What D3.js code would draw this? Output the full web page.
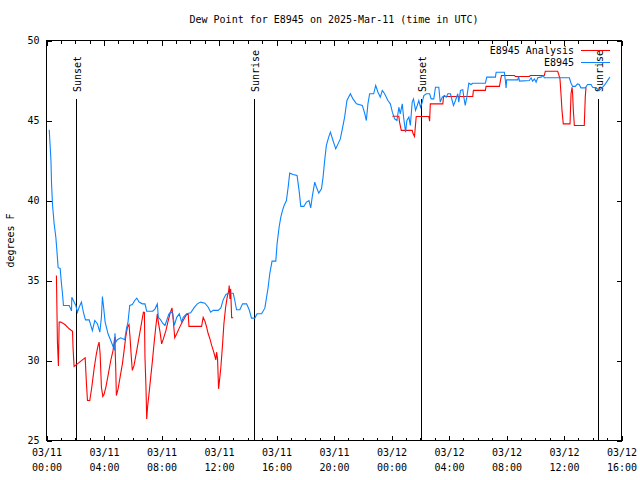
<!DOCTYPE html>
<html>
<head>
<meta charset="utf-8">
<script src="https://cdn.jsdelivr.net/npm/d3@7"></script>
<style>
  html, body { margin: 0; padding: 0; background: #fff; }
  svg { display: block; }
  text { font-family: "DejaVu Sans Mono", "Liberation Mono", monospace; font-size: 10px; fill: #000; }
</style>
</head>
<body>
<svg id="chart" width="640" height="480"></svg>
<script>
// ---------------- data ----------------
const chartTitle = "Dew Point for E8945 on 2025-Mar-11 (time in UTC)";
const yLabel = "degrees F";
const startTime = "2025-03-11T00:00:00Z";
const endTime = "2025-03-12T16:00:00Z";
const yTicks = [25, 30, 35, 40, 45, 50];
const seriesNames = ["E8945 Analysis", "E8945"];

// observed station series (hours after 03/11 00:00 UTC, deg F)
const blueHours = [0.19,0.31,0.35,0.42,0.53,0.65,0.72,0.81,0.95,1.04,1.11,1.18,1.58,1.74,1.76,1.92,2.04,2.15,2.27,2.43,2.57,2.71,2.97,3.19,3.36,3.54,3.71,3.82,3.89,3.96,4.08,4.28,4.47,4.65,4.75,4.76,4.82,4.93,5.17,5.44,5.56,5.67,5.79,5.97,6.14,6.28,6.44,6.67,6.85,6.97,7.39,7.55,7.71,7.78,7.94,8.08,8.24,8.36,8.52,8.64,8.78,8.89,9.06,9.24,9.40,9.51,9.75,10.03,10.26,10.49,10.72,11.02,11.25,11.42,11.60,11.94,12.13,12.29,12.48,12.64,12.99,13.10,13.22,13.45,13.64,13.92,14.10,14.26,14.49,14.65,14.96,15.19,15.31,15.42,15.53,15.69,15.95,16.04,16.18,16.30,16.42,16.53,16.69,16.81,16.92,17.15,17.43,17.57,17.69,17.90,18.08,18.26,18.38,18.50,18.66,18.78,18.94,19.13,19.24,19.35,19.47,19.63,19.75,19.93,20.12,20.28,20.44,20.58,20.74,20.90,21.14,21.32,21.56,21.97,22.13,22.25,22.36,22.48,22.76,22.90,23.06,23.22,23.36,23.52,23.75,23.92,24.06,24.22,24.38,24.51,24.61,24.75,24.84,24.98,25.07,25.21,25.31,25.44,25.53,25.67,25.79,25.90,26.02,26.14,26.25,26.42,26.65,26.76,26.94,27.06,27.29,27.39,27.53,27.69,27.81,27.92,28.10,28.22,28.31,28.45,28.61,28.68,28.80,28.96,29.03,29.13,29.24,29.38,29.54,29.65,30.53,30.63,31.23,31.28,31.85,31.92,31.97,32.01,32.78,32.85,32.90,33.59,33.71,33.82,33.94,34.06,34.17,34.40,34.56,34.63,36.37,36.49,36.60,36.78,36.94,37.06,37.18,37.48,37.64,37.88,37.99,38.22,38.45,38.64,38.80,38.96,39.19];
const blueDew = [44.42,42.5,41.06,39.7,38.56,37.7,36.9,35.8,35.75,34.8,34.2,33.44,33.44,33.1,33.96,33.65,33.44,33.02,33.33,33.65,33.0,32.54,32.54,31.87,32.5,32.3,31.77,32.7,34.0,33.44,32.4,31.67,31.25,30.83,30.67,31.7,31.15,31.3,31.42,31.3,31.98,32.4,33.44,33.5,33.75,33.9,33.65,33.54,33.54,33.08,33.08,33.23,33.54,32.7,32.54,32.33,32.19,32.5,32.92,33.02,32.96,32.19,32.7,32.92,32.4,32.7,32.92,32.98,33.29,33.54,33.65,33.58,33.33,33.02,33.13,33.13,33.29,33.79,34.13,34.2,34.2,33.75,33.17,33.17,33.54,33.54,33.17,32.65,32.65,32.92,32.92,33.27,33.96,34.58,35.42,36.21,36.21,37.29,38.33,38.96,39.38,39.69,40.0,40.83,41.71,41.63,41.56,40.63,39.63,39.63,39.9,40.0,39.54,40.31,41.15,40.83,40.46,40.73,41.46,42.5,43.44,43.96,44.27,43.75,43.23,43.54,43.85,44.48,45.21,46.25,46.67,46.35,46.04,45.94,45.46,45.0,46.04,46.67,46.67,47.19,46.77,46.46,46.88,46.67,46.25,46.04,45.52,45.1,45.0,45.83,45.42,46.04,45.21,44.27,45.0,45.21,44.69,46.15,46.35,45.63,45.94,46.25,45.83,46.15,46.56,46.67,46.67,46.35,46.35,47.08,47.08,46.15,46.46,46.56,46.46,46.67,46.67,46.25,45.94,46.25,46.67,46.15,46.88,46.92,46.46,45.94,46.46,47.33,47.25,47.33,47.33,47.71,47.71,48.02,48.02,47.5,47.04,47.54,47.54,47.75,47.46,47.5,47.67,47.46,47.6,47.4,47.67,47.71,47.81,47.67,47.67,47.33,47.13,47.13,47.29,47.25,47.04,47.04,47.25,47.25,47.08,47.04,46.88,47.04,47.19,47.4,47.71];

// analysis series (null = gap)
const redHours = [0.69,0.76,0.83,0.88,1.00,1.28,1.58,1.81,1.85,1.92,2.15,2.50,2.69,2.78,2.85,3.01,3.15,3.31,3.47,3.59,3.66,3.73,3.82,3.92,4.01,4.13,4.28,4.47,4.63,4.75,4.82,4.86,4.98,5.12,5.28,5.40,5.51,5.63,5.74,5.81,5.90,5.97,6.09,6.28,6.44,6.60,6.74,6.81,6.85,6.92,6.97,7.04,7.13,7.25,7.36,7.48,7.60,7.71,7.78,7.90,8.01,8.13,8.31,8.47,8.59,8.73,8.82,8.92,9.06,9.24,9.40,9.63,9.75,9.86,9.91,10.79,10.90,11.02,11.14,11.25,11.37,11.49,11.60,11.72,11.78,11.83,11.90,11.97,12.06,12.13,12.25,12.34,12.46,12.57,12.67,12.71,12.76,12.81,12.88,12.99,18.5,24.06,24.51,24.56,24.68,25.44,25.49,25.60,25.72,26.60,26.65,26.70,27.57,27.62,29.65,29.70,30.53,30.58,31.51,31.58,31.65,32.55,32.62,33.59,33.66,34.63,34.70,35.56,35.63,35.72,35.79,35.86,35.95,36.42,36.49,36.56,36.60,36.65,36.72,37.41,37.48,37.53];
const redDew = [35.31,31.15,29.65,32.4,32.4,32.25,31.98,31.83,30.73,29.63,29.79,30.04,30.17,28.54,27.5,27.5,28.33,29.48,30.42,30.94,31.15,30.42,28.33,27.75,27.9,28.33,29.06,30.0,30.63,31.46,29.38,27.81,28.23,28.96,29.79,30.63,31.46,32.08,32.25,31.46,30.21,29.38,29.69,30.63,31.46,32.29,33.02,33.0,30.2,28.33,26.35,27.19,27.9,28.96,29.9,31.04,32.08,32.92,32.4,31.77,31.04,31.35,31.88,32.5,32.92,33.29,32.5,31.42,31.67,32.04,32.33,32.7,32.88,32.88,32.13,32.13,32.7,32.46,32.08,31.67,31.35,30.94,30.63,30.25,30.04,30.52,30.1,28.23,28.96,29.58,31.04,32.29,33.33,33.96,34.33,34.69,33.85,34.48,32.67,32.67,null,45.27,45.27,44.9,44.38,44.38,44.2,44.0,45.25,45.25,44.96,46.04,46.04,46.5,46.5,46.88,46.88,47.13,47.13,47.5,47.81,47.81,47.75,47.75,47.81,47.81,48.08,48.08,47.88,47.6,46.67,45.63,44.79,44.79,46.67,47.08,46.67,45.63,44.69,44.69,46.46,47.08];

const sunLabels = ["Sunset", "Sunrise", "Sunset", "Sunrise"];
const sunTimes = ["2025-03-11T02:04:00Z", "2025-03-11T14:28:00Z", "2025-03-12T02:02:00Z", "2025-03-12T14:22:00Z"];
const seriesColors = ["#ff0000", "#0a84ff"];

// ---------------- drawing ----------------
const svg = d3.select("#chart");
const L = 46.5, R = 621.5, T = 40.5, B = 440.5;
const t0 = new Date(startTime);
const hr = h => new Date(t0.getTime() + h * 3600e3);

const x = d3.scaleUtc().domain([t0, new Date(endTime)]).range([L, R]);
const y = d3.scaleLinear().domain([25, 50]).range([B, T]);

const majorTicks = d3.utcHour.every(4).range(t0, new Date(new Date(endTime).getTime() + 1));
const minorTicks = d3.utcHour.every(1).range(t0, new Date(new Date(endTime).getTime() + 1));

const axisG = svg.append("g").attr("shape-rendering", "crispEdges");
// minor ticks bottom/top
axisG.append("g").attr("transform", `translate(0,${B})`)
  .call(d3.axisBottom(x).tickValues(minorTicks).tickSize(-3).tickSizeOuter(0).tickFormat(""))
  .call(g => g.select(".domain").remove());
axisG.append("g").attr("transform", `translate(0,${T})`)
  .call(d3.axisTop(x).tickValues(minorTicks).tickSize(-3).tickSizeOuter(0).tickFormat(""))
  .call(g => g.select(".domain").remove());
// major ticks bottom (with labels) / top
const fmtD = d3.utcFormat("%m/%d"), fmtH = d3.utcFormat("%H:%M");
const xb = axisG.append("g").attr("transform", `translate(0,${B})`)
  .call(d3.axisBottom(x).tickValues(majorTicks).tickSize(-5).tickSizeOuter(0).tickFormat(""))
  .call(g => g.select(".domain").remove());
xb.selectAll(".tick text").remove();
xb.selectAll(".tick").each(function(d) {
  const t = d3.select(this).append("text").attr("text-anchor", "middle")
    .style("font-family", '"DejaVu Sans Mono", monospace').style("font-size", "10px").attr("fill", "#000");
  t.append("tspan").attr("x", 0).attr("y", 15.5).text(fmtD(d));
  t.append("tspan").attr("x", 0).attr("y", 30.5).text(fmtH(d));
});
axisG.append("g").attr("transform", `translate(0,${T})`)
  .call(d3.axisTop(x).tickValues(majorTicks).tickSize(-5).tickSizeOuter(0).tickFormat(""))
  .call(g => g.select(".domain").remove());
// y axis left / right
const yl = axisG.append("g").attr("transform", `translate(${L},0)`)
  .call(d3.axisLeft(y).tickValues(yTicks).tickSize(-5).tickSizeOuter(0).tickPadding(7).tickFormat(d3.format("d")))
  .call(g => g.select(".domain").remove());
yl.selectAll("text").style("font-family", '"DejaVu Sans Mono", monospace').style("font-size", "10px").attr("fill", "#000");
axisG.append("g").attr("transform", `translate(${R},0)`)
  .call(d3.axisRight(y).tickValues(yTicks).tickSize(-5).tickSizeOuter(0).tickFormat(""))
  .call(g => g.select(".domain").remove());

// sunrise / sunset
sunTimes.forEach((s, i) => {
  const sx = Math.round(x(new Date(s))) + 0.5;
  svg.append("line").attr("x1", sx).attr("x2", sx).attr("y1", 99).attr("y2", B)
    .attr("stroke", "#000").attr("shape-rendering", "crispEdges");
  svg.append("text").attr("transform", `translate(${sx + 4},92) rotate(-90)`)
    .attr("text-anchor", "start").text(sunLabels[i]);
});

// series
const line = d3.line().defined(d => d.v != null).x(d => x(d.t)).y(d => y(d.v));
const redData = redHours.map((h, i) => ({ t: hr(h), v: redDew[i] }));
const blueData = blueHours.map((h, i) => ({ t: hr(h), v: blueDew[i] }));
svg.append("path").datum(redData).attr("d", line).attr("fill", "none")
  .attr("stroke", seriesColors[0]).attr("stroke-width", 1.1);
svg.append("path").datum(blueData).attr("d", line).attr("fill", "none")
  .attr("stroke", seriesColors[1]).attr("stroke-width", 1.1);

// frame
svg.append("rect").attr("x", L).attr("y", T).attr("width", R - L).attr("height", B - T)
  .attr("fill", "none").attr("stroke", "#000").attr("shape-rendering", "crispEdges");

// legend
seriesNames.forEach((n, i) => {
  const ly = 50 + i * 12;
  svg.append("text").attr("x", 574).attr("y", ly + 3.5).attr("text-anchor", "end").text(n);
  svg.append("line").attr("x1", 581).attr("x2", 610).attr("y1", ly + 0.5).attr("y2", ly + 0.5)
    .attr("stroke", seriesColors[i]).attr("stroke-width", 1.1).attr("shape-rendering", "crispEdges");
});

// title and y label
svg.append("text").attr("x", (L + R) / 2).attr("y", 23).attr("text-anchor", "middle").text(chartTitle);
svg.append("text").attr("transform", `translate(14,${(T + B) / 2}) rotate(-90)`)
  .attr("text-anchor", "middle").text(yLabel);
</script>
</body>
</html>
